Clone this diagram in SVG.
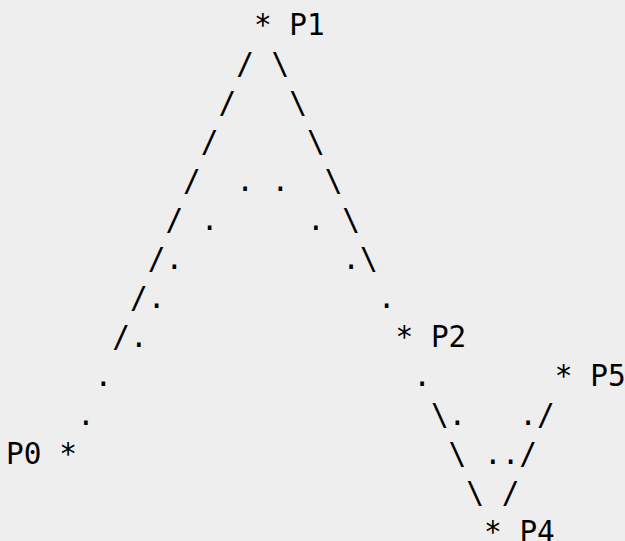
<svg xmlns="http://www.w3.org/2000/svg" width="625" height="541" viewBox="0 0 625 541">
<style>
text{font-family:"DejaVu Sans Mono","Liberation Mono",monospace;font-size:29.4px;fill:#000;white-space:pre}
</style>
<rect x="0" y="0" width="625" height="541" fill="#eeeeee"/>
<g id="connectors" xml:space="preserve">
<text x="236.2" y="74">/ \</text>
<text x="218.5" y="113">/   \</text>
<text x="200.8" y="152">/     \</text>
<text x="183.1" y="191">/  . .  \</text>
<text x="165.4" y="230">/ .     . \</text>
<text x="147.7" y="269">/.         .\</text>
<text x="130.0" y="308">/.            .</text>
<text x="112.3" y="347">/.</text>
<text x="94.6" y="386">.</text>
<text x="413.2" y="386">.</text>
<text x="76.9" y="425">.</text>
<text x="430.9" y="425">\.   ./</text>
<text x="448.6" y="464">\ ../</text>
<text x="466.3" y="503">\ /</text>
</g>
<g id="P1" xml:space="preserve"><text x="253.9" y="35">* P1</text></g>
<g id="P2" xml:space="preserve"><text x="395.5" y="347">* P2</text></g>
<g id="P5" xml:space="preserve"><text x="554.8" y="386">* P5</text></g>
<g id="P0" xml:space="preserve"><text x="6.1" y="464">P0 *</text></g>
<g id="P4" xml:space="preserve"><text x="484.0" y="542">* P4</text></g>
</svg>
